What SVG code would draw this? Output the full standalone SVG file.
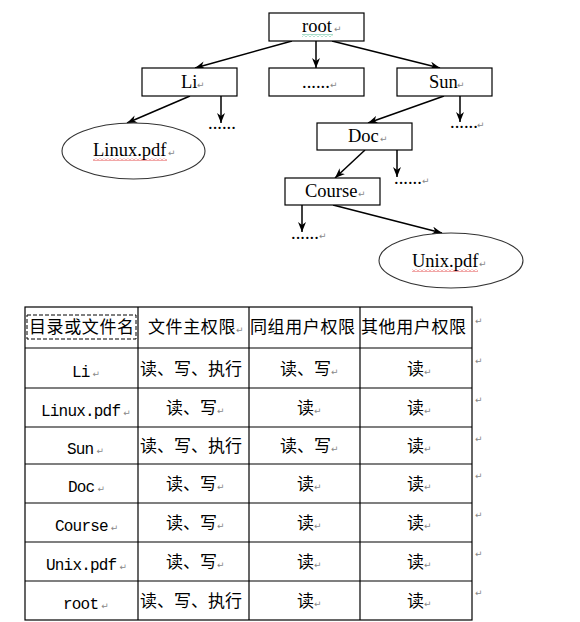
<svg xmlns="http://www.w3.org/2000/svg" width="580" height="622" viewBox="0 0 580 622">
<style>
.box{fill:#fff;stroke:#000;stroke-width:1.2}
.ell{fill:#fff;stroke:#333;stroke-width:1.1}
.lbl{font-family:"Liberation Serif","Times New Roman",serif;font-size:18.5px;fill:#000}
.pm{font-family:"DejaVu Sans",sans-serif;font-size:9px;fill:#888;letter-spacing:0}
.cn{font-family:"Noto Sans CJK SC","Noto Sans",sans-serif;font-size:17px;fill:#000}
.hd{letter-spacing:0.6px}
.mono{font-family:"Liberation Mono","Courier New",monospace;font-size:16px;letter-spacing:-0.8px;fill:#000}
.edge{stroke:#000;stroke-width:1.5;fill:none;marker-end:url(#arr)}
.grid{stroke:#000;stroke-width:1.2;fill:none}
</style>
<defs>
<marker id="arr" viewBox="0 0 10 8" refX="10" refY="4" markerWidth="10" markerHeight="8" orient="auto" markerUnits="userSpaceOnUse"><path d="M0,0 L10,4 L0,8 L3,4 z" fill="#000"/></marker>
<pattern id="wavR" width="4" height="3" patternUnits="userSpaceOnUse"><path d="M0,2.5 L2,0.5 L4,2.5" stroke="#d22" fill="none" stroke-width="0.8"/></pattern>
<pattern id="wavG" width="4" height="3" patternUnits="userSpaceOnUse"><path d="M0,2.5 L2,0.5 L4,2.5" stroke="#2a7" fill="none" stroke-width="0.8"/></pattern>
</defs>
<rect width="580" height="622" fill="#fff"/>

<g id="connectors">
<line class="edge" x1="292" y1="41" x2="195" y2="68"/>
<line class="edge" x1="316" y1="41" x2="316" y2="68"/>
<line class="edge" x1="332" y1="41" x2="440" y2="68"/>
<line class="edge" x1="190" y1="96" x2="127" y2="123"/>
<line class="edge" x1="221" y1="96" x2="221" y2="123"/>
<line class="edge" x1="444" y1="96" x2="368" y2="123"/>
<line class="edge" x1="460" y1="96" x2="460" y2="122"/>
<line class="edge" x1="365" y1="150" x2="335" y2="178"/>
<line class="edge" x1="397" y1="150" x2="397" y2="177"/>
<line class="edge" x1="302" y1="205" x2="302" y2="232"/>
<line class="edge" x1="333" y1="205" x2="442" y2="233"/>
</g>

<g id="n-root">
<rect class="box" x="269" y="13" width="95" height="28"/>
<text class="lbl" x="302" y="32">root</text>
<text class="pm" x="334" y="32">↵</text>
<rect x="302" y="34" width="31" height="3" fill="url(#wavG)"/>
</g>
<g id="n-li">
<rect class="box" x="142" y="68" width="95" height="28"/>
<text class="lbl" x="181" y="88">Li</text>
<text class="pm" x="197" y="88">↵</text>
</g>
<g id="n-mid">
<rect class="box" x="269" y="68" width="95" height="28"/>
<text class="lbl" x="302" y="88">......</text>
<text class="pm" x="330" y="88">↵</text>
</g>
<g id="n-sun">
<rect class="box" x="397" y="68" width="95" height="28"/>
<text class="lbl" x="429" y="88">Sun</text>
<text class="pm" x="457" y="88">↵</text>
</g>
<g id="n-linux">
<ellipse class="ell" cx="133.5" cy="151" rx="71.5" ry="28"/>
<text class="lbl" x="93" y="156">Linux.pdf</text>
<text class="pm" x="168" y="156">↵</text>
<rect x="93" y="158" width="74" height="3" fill="url(#wavR)"/>
</g>
<g id="n-li-more">
<text class="lbl" x="208" y="129">......</text>
</g>
<g id="n-sun-more">
<text class="lbl" x="450" y="128">......</text>
<text class="pm" x="477" y="128">↵</text>
</g>
<g id="n-doc">
<rect class="box" x="317" y="123" width="95" height="27"/>
<text class="lbl" x="348" y="142">Doc</text>
<text class="pm" x="380" y="142">↵</text>
</g>
<g id="n-doc-more">
<text class="lbl" x="394" y="184">......</text>
<text class="pm" x="422" y="184">↵</text>
</g>
<g id="n-course">
<rect class="box" x="285" y="178" width="95" height="27"/>
<text class="lbl" x="305" y="197">Course</text>
<text class="pm" x="358" y="197">↵</text>
</g>
<g id="n-course-more">
<text class="lbl" x="291" y="239">......</text>
<text class="pm" x="319" y="239">↵</text>
</g>
<g id="n-unix">
<ellipse class="ell" cx="451" cy="260.5" rx="72" ry="27.5"/>
<text class="lbl" x="412" y="267">Unix.pdf</text>
<text class="pm" x="479" y="267">↵</text>
<rect x="412" y="269" width="66" height="3" fill="url(#wavR)"/>
</g>

<g id="table">
<rect class="grid" x="25" y="307" width="447" height="313"/>
<line class="grid" x1="138" y1="307" x2="138" y2="620"/>
<line class="grid" x1="249" y1="307" x2="249" y2="620"/>
<line class="grid" x1="360" y1="307" x2="360" y2="620"/>
<line class="grid" x1="25" y1="348" x2="472" y2="348"/>
<line class="grid" x1="25" y1="388" x2="472" y2="388"/>
<line class="grid" x1="25" y1="427" x2="472" y2="427"/>
<line class="grid" x1="25" y1="464" x2="472" y2="464"/>
<line class="grid" x1="25" y1="503" x2="472" y2="503"/>
<line class="grid" x1="25" y1="542" x2="472" y2="542"/>
<line class="grid" x1="25" y1="581" x2="472" y2="581"/>
<rect x="27" y="315" width="109" height="24" fill="none" stroke="#000" stroke-width="1" stroke-dasharray="4,2"/>

<text class="cn hd" x="29" y="333">目录或文件名</text>
<text class="cn hd" x="148" y="333">文件主权限<tspan class="pm">↵</tspan></text>
<text class="cn hd" x="250" y="333">同组用户权限</text>
<text class="cn hd" x="361" y="333">其他用户权限</text>

<text class="mono" x="72" y="377">Li<tspan class="pm" dx="3">↵</tspan></text>
<text class="cn" x="140" y="374.5">读、写、执行</text>
<text class="cn" x="280" y="374.5">读、写<tspan class="pm">↵</tspan></text>
<text class="cn" x="407" y="374.5">读<tspan class="pm">↵</tspan></text>

<text class="mono" x="41" y="416">Linux.pdf<tspan class="pm" dx="3">↵</tspan></text>
<text class="cn" x="166" y="414">读、写<tspan class="pm">↵</tspan></text>
<text class="cn" x="297" y="414">读<tspan class="pm">↵</tspan></text>
<text class="cn" x="407" y="414">读<tspan class="pm">↵</tspan></text>

<text class="mono" x="67" y="454">Sun<tspan class="pm" dx="3">↵</tspan></text>
<text class="cn" x="140" y="452">读、写、执行</text>
<text class="cn" x="280" y="452">读、写<tspan class="pm">↵</tspan></text>
<text class="cn" x="407" y="452">读<tspan class="pm">↵</tspan></text>

<text class="mono" x="68" y="492">Doc<tspan class="pm" dx="3">↵</tspan></text>
<text class="cn" x="166" y="490">读、写<tspan class="pm">↵</tspan></text>
<text class="cn" x="297" y="490">读<tspan class="pm">↵</tspan></text>
<text class="cn" x="407" y="490">读<tspan class="pm">↵</tspan></text>

<text class="mono" x="55" y="531">Course<tspan class="pm" dx="3">↵</tspan></text>
<text class="cn" x="166" y="529">读、写<tspan class="pm">↵</tspan></text>
<text class="cn" x="297" y="529">读<tspan class="pm">↵</tspan></text>
<text class="cn" x="407" y="529">读<tspan class="pm">↵</tspan></text>

<text class="mono" x="46" y="570">Unix.pdf<tspan class="pm" dx="3">↵</tspan></text>
<text class="cn" x="166" y="568">读、写<tspan class="pm">↵</tspan></text>
<text class="cn" x="297" y="568">读<tspan class="pm">↵</tspan></text>
<text class="cn" x="407" y="568">读<tspan class="pm">↵</tspan></text>

<text class="mono" x="63" y="609">root<tspan class="pm" dx="3">↵</tspan></text>
<text class="cn" x="140" y="607">读、写、执行</text>
<text class="cn" x="297" y="607">读<tspan class="pm">↵</tspan></text>
<text class="cn" x="407" y="607">读<tspan class="pm">↵</tspan></text>

<text class="pm" x="475" y="324">↵</text>
<text class="pm" x="475" y="364">↵</text>
<text class="pm" x="475" y="403">↵</text>
<text class="pm" x="475" y="442">↵</text>
<text class="pm" x="475" y="479">↵</text>
<text class="pm" x="475" y="518">↵</text>
<text class="pm" x="475" y="557">↵</text>
<text class="pm" x="475" y="596">↵</text>
</g>
</svg>
